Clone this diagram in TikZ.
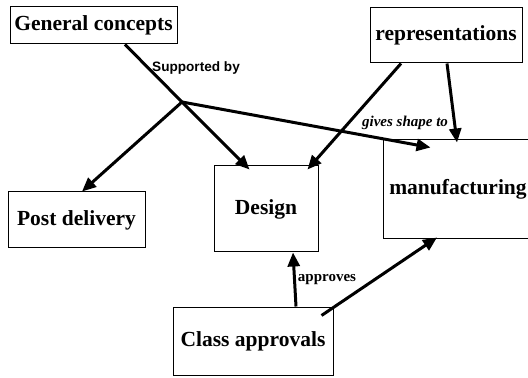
\documentclass[tikz,border=0pt]{standalone}
\usepackage{fontspec}
\setmainfont{Liberation Serif}
\setsansfont{Liberation Sans}
\usetikzlibrary{arrows.meta, calc}
\tikzset{
    my-box/.style={
        draw, line width=0.5pt, inner sep=0pt, font=\fontsize{10.75}{13}\selectfont\bfseries
    },
    my-link/.style={
        line width=1.5pt, -{Triangle[length=7pt, width=6pt]}
    },
    my-wire/.style={
        line width=1.5pt
    },
    my-label/.style={
        inner sep=0pt, font=\fontsize{7.5}{9}\selectfont\bfseries
    },
}

\begin{document}
\begin{tikzpicture}[x=0.5pt, y=-0.5pt]

        \useasboundingbox (0,0) rectangle (528,378);

        % CONCEPT BOXES
        \node[my-box, minimum width=83.5pt, minimum height=18.5pt] (GENERAL) at (93.5,25.5) {General concepts};
        \node[my-box, minimum width=76pt,   minimum height=27.5pt] (REPR)    at (446,35.5)  {representations};
        \node[my-box, minimum width=68.5pt, minimum height=28pt]   (POST)    at (76.5,220)  {Post delivery};
        \node[my-box, minimum width=52pt,   minimum height=43pt]   (DESIGN)  at (266,209)   {Design};
        \node[my-box, minimum width=75pt,   minimum height=49.5pt] (MANUF)   at (458,189.5) {manufacturing};
        \node[my-box, minimum width=80pt,   minimum height=34pt]   (CLASS)   at (253,341)   {Class approvals};

        % BRANCH POINT AND CONNECTOR POINTS
        \coordinate (JOIN)     at (182,102);
        \coordinate (GENOUT)   at ($(GENERAL.south) + (31.5,0)$);
        \coordinate (REPOUT1)  at ($(REPR.south) + (-45,0)$);
        \coordinate (REPOUT2)  at ($(REPR.south) + (1,0)$);
        \coordinate (CLASSOUT1) at ($(CLASS.north) + (43,0)$);
        \coordinate (CLASSOUT2) at ($(CLASS.north east) + (-12,9)$);
        \coordinate (POSTIN)   at ($(POST.north) + (5.5,0)$);
        \coordinate (DESIN1)   at ($(DESIGN.north west) + (36,4)$);
        \coordinate (DESIN2)   at ($(DESIGN.north east) + (-11,4)$);
        \coordinate (DESIN3)   at ($(DESIGN.south) + (27,0)$);
        \coordinate (MANIN1)   at ($(MANUF.north west) + (48,8)$);
        \coordinate (MANIN2)   at ($(MANUF.north) + (-1,3)$);
        \coordinate (MANIN3)   at ($(MANUF.south) + (-21,-2)$);

        % GENERAL CONCEPTS CONNECTIONS
        \draw[my-wire] (GENOUT) -- (JOIN);
        \draw[my-link] (JOIN) -- (DESIN1);
        \draw[my-link] (JOIN) -- (POSTIN);
        \draw[my-link] (JOIN) -- (MANIN1);

        % REPRESENTATIONS CONNECTIONS
        \draw[my-link] (REPOUT1) -- (DESIN2);
        \draw[my-link] (REPOUT2) -- (MANIN2);

        % CLASS APPROVALS CONNECTIONS
        \draw[my-link] (CLASSOUT1) -- (DESIN3);
        \draw[my-link] (CLASSOUT2) -- (MANIN3);

        % LINK LABELS
        \node[my-label, font=\fontsize{6.8}{8}\selectfont\sffamily\bfseries] (SUPPORTED) at (196,68) {Supported by};
        \node[my-label, font=\fontsize{7.5}{9}\selectfont\bfseries\itshape] (GIVES) at (405,123) {gives shape to};
        \node[my-label] (APPROVES) at (327,280) {approves};

    \end{tikzpicture}
\end{document}
